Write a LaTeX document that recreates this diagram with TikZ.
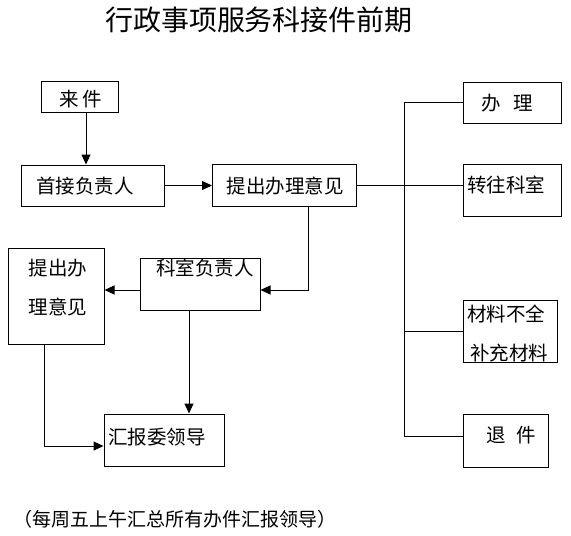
\documentclass[tikz,border=0pt]{standalone}
\usepackage{fontspec}
\newfontfamily\cjk{Noto Sans CJK SC}
\usetikzlibrary{arrows.meta}
\tikzset{
  box/.style={draw, line width=1pt, inner sep=0pt},
  lbl/.style={font=\cjk\fontsize{19.5}{21}\selectfont, inner sep=0pt},
  arr/.style={line width=1pt, -{Triangle[length=10pt,width=9pt]}},
  ln/.style={line width=1pt},
}
\begin{document}
\begin{tikzpicture}[x=1pt,y=-1pt]
\useasboundingbox (0,0) rectangle (571,536);
% title
\node[font=\cjk\fontsize{28}{30}\selectfont, inner sep=0pt] (title) at (259,20) {行政事项服务科接件前期};
% boxes
\node[box, minimum width=77, minimum height=31] (laijian) at (79.5,96.5) {};
\node[box, minimum width=143, minimum height=41] (shoujie) at (92.5,185.5) {};
\node[box, minimum width=144, minimum height=42] (tichu) at (284.5,185) {};
\node[box, minimum width=120, minimum height=52] (keshi) at (200,284.5) {};
\node[box, minimum width=96, minimum height=96] (tichuL) at (56,296) {};
\node[box, minimum width=120, minimum height=52] (huibao) at (164,440) {};
\node[box, minimum width=98, minimum height=41] (banli) at (512,102.5) {};
\node[box, minimum width=98, minimum height=52] (zhuan) at (512,190) {};
\node[box, minimum width=94, minimum height=62] (cailiao) at (510,331) {};
\node[box, minimum width=85, minimum height=53] (tui) at (505.5,440.5) {};
% texts
\node[lbl] (tlai) at (81,99) {来\hspace{4pt}件};
\node[lbl] (tshou) at (85,186) {首接负责人};
\node[lbl] (tti) at (285,186) {提出办理意见};
\node[lbl] (tke) at (205,268) {科室负责人};
\node[lbl] (tl1) at (58,268) {提出办};
\node[lbl] (tl2) at (58,307) {理意见};
\node[lbl] (thui) at (157,437) {汇报委领导};
\node[lbl] (tban) at (507,103) {办\hspace{13pt}理};
\node[lbl] (tzhuan) at (506,185) {转往科室};
\node[lbl] (tca1) at (506,314) {材料不全};
\node[lbl] (tca2) at (509,353) {补充材料};
\node[lbl] (ttui) at (511,435) {退\hspace{11pt}件};
\node[font=\cjk\fontsize{19}{21}\selectfont, inner sep=0pt] (note) at (175,519) {（每周五上午汇总所有办件汇报领导）};
% coordinates
\coordinate (bt) at (404,102);
\coordinate (bb) at (404,436);
\coordinate (c1) at (308,290);
\coordinate (c2) at (189,300);
\coordinate (c3) at (44,446);
\coordinate (c4) at (86,100);
% connectors
\draw[arr] (c4 |- laijian.south) -- (c4 |- shoujie.north);
\draw[arr] (shoujie.east) -- (shoujie.east -| tichu.west);
\draw[ln] (tichu.east) -- (tichu.east -| zhuan.west);
\draw[ln] (banli.west |- bt) -- (bt) -- (bb) -- (bb -| tui.west);
\draw[ln] (bt |- cailiao.west) -- (cailiao.west);
\draw[arr] (c1 |- tichu.south) -- (c1) -- (c1 -| keshi.east);
\draw[arr] (c1 -| keshi.west) -- (c1 -| tichuL.east);
\draw[arr] (c2 |- keshi.south) -- (c2 |- huibao.north);
\draw[arr] (c3 |- tichuL.south) -- (c3) -- (c3 -| huibao.west);
\end{tikzpicture}
\end{document}
